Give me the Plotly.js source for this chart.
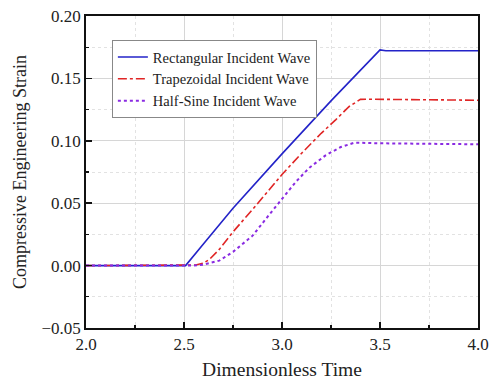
<!DOCTYPE html>
<html>
<head>
<meta charset="utf-8">
<script src="https://cdn.plot.ly/plotly-3.0.1.min.js"></script>
<style>html,body{margin:0;padding:0;background:#fff;}#chart{width:489px;height:380px;}</style>
</head>
<body>
<div id="chart"></div>
<script>
const seriesNames = ["Rectangular Incident Wave", "Trapezoidal Incident Wave", "Half-Sine Incident Wave"];

const rectTime   = [2.0, 2.508, 2.6, 2.75, 3.0, 3.25, 3.5, 3.53, 4.0];
const rectStrain = [0.0, 0.0, 0.0175, 0.046, 0.0895, 0.132, 0.1728, 0.1722, 0.1722];

const trapTime   = [2.0, 2.5, 2.56, 2.6, 2.63, 2.68, 2.75, 2.85, 3.0, 3.1, 3.2, 3.275, 3.343, 3.4, 3.45, 4.0];
const trapStrain = [0.0, 0.0, 0.0005, 0.002, 0.005, 0.013, 0.027, 0.045, 0.073, 0.090, 0.106, 0.117, 0.1275, 0.1332, 0.1333, 0.1325];

const sineTime   = [2.0, 2.55, 2.6, 2.68, 2.75, 2.85, 2.936, 3.0, 3.07, 3.14, 3.224, 3.3, 3.37, 3.5, 4.0];
const sineStrain = [0.0, 0.0, 0.0008, 0.004, 0.011, 0.024, 0.041, 0.0535, 0.067, 0.0785, 0.0885, 0.095, 0.0985, 0.098, 0.0972];

const xTickVals = [2.0, 2.5, 3.0, 3.5, 4.0];
const yTickVals = [-0.05, 0.00, 0.05, 0.10, 0.15, 0.20];

const serif = "Liberation Serif, Times New Roman, serif";

const traces = [
  {x: rectTime, y: rectStrain, name: seriesNames[0], mode: "lines",
   line: {color: "#2323c8", width: 1.6, dash: "solid"}},
  {x: trapTime, y: trapStrain, name: seriesNames[1], mode: "lines",
   line: {color: "#e02525", width: 1.6, dash: "dashdot"}},
  {x: sineTime, y: sineStrain, name: seriesNames[2], mode: "lines",
   line: {color: "#8a2be2", width: 2, dash: "dot"}}
];

const layout = {
  width: 489, height: 380,
  margin: {l: 86, r: 11, t: 16, b: 52},
  paper_bgcolor: "#fff", plot_bgcolor: "#fff",
  font: {family: serif, color: "#222", size: 17},
  showlegend: true,
  legend: {
    x: 0.066, y: 0.923, xanchor: "left", yanchor: "top",
    bgcolor: "#fff", bordercolor: "#888", borderwidth: 1,
    font: {family: serif, size: 14.5, color: "#222"},
    tracegroupgap: 0, itemwidth: 30
  },
  xaxis: {
    range: [2.0, 4.0], tickvals: xTickVals, tickformat: ".1f",
    ticks: "inside", ticklen: 6, tickwidth: 1.5, tickcolor: "#111",
    showline: true, linecolor: "#111", linewidth: 1.8, mirror: true,
    showgrid: true, gridcolor: "#d6d6d6", gridwidth: 1, zeroline: false,
    minor: {dtick: 0.25, ticks: "inside", ticklen: 3, tickcolor: "#111", tickwidth: 1.2,
            showgrid: true, gridcolor: "#e2e2e2", griddash: "dot", gridwidth: 1},
    tickfont: {family: serif, size: 17, color: "#222"},
    title: {text: "Dimensionless Time", font: {family: serif, size: 19.5, color: "#222"}, standoff: 10}
  },
  yaxis: {
    range: [-0.05, 0.20], tickvals: yTickVals, tickformat: ".2f",
    ticks: "inside", ticklen: 6, tickwidth: 1.5, tickcolor: "#111",
    showline: true, linecolor: "#111", linewidth: 1.8, mirror: true,
    showgrid: true, gridcolor: "#d6d6d6", gridwidth: 1, zeroline: false,
    minor: {dtick: 0.025, ticks: "inside", ticklen: 3, tickcolor: "#111", tickwidth: 1.2,
            showgrid: true, gridcolor: "#e2e2e2", griddash: "dot", gridwidth: 1},
    tickfont: {family: serif, size: 17, color: "#222"},
    title: {text: "Compressive Engineering Strain", font: {family: serif, size: 18, color: "#222"}, standoff: 10}
  }
};

Plotly.newPlot("chart", traces, layout, {displayModeBar: false, staticPlot: true});
</script>
</body>
</html>
